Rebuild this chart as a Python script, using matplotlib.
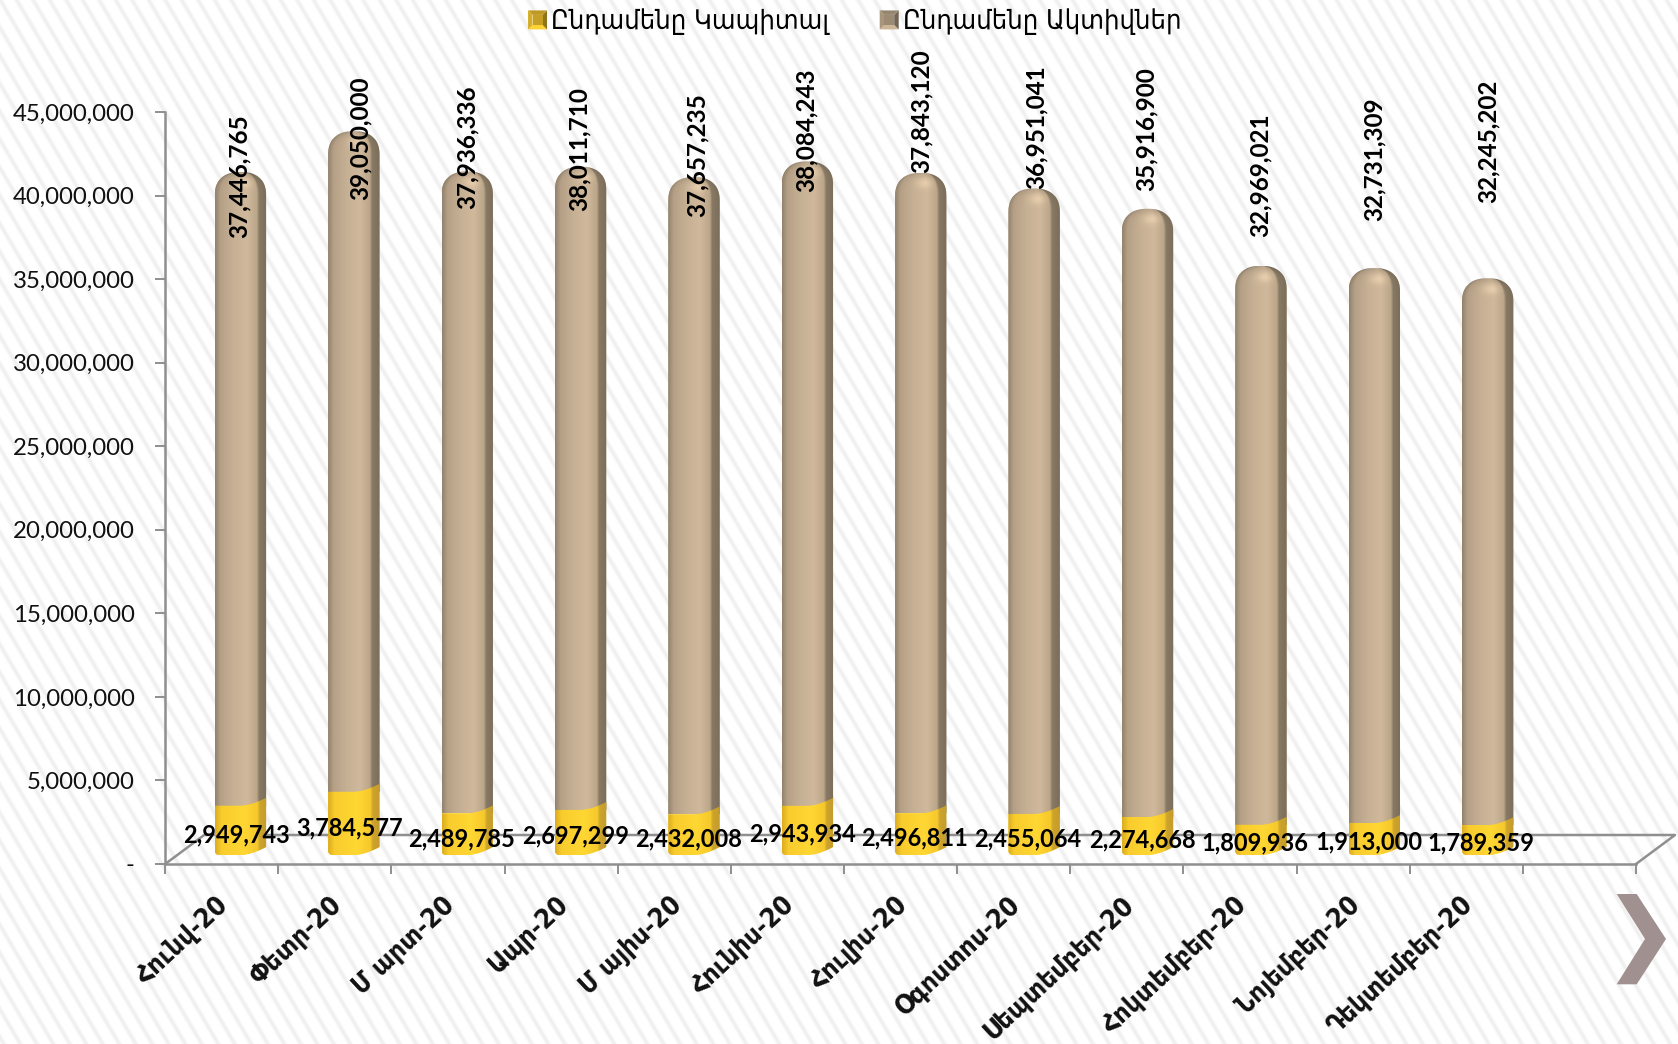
import matplotlib
matplotlib.use('Agg')
import matplotlib.pyplot as plt
import matplotlib.ticker as mticker
from matplotlib.colors import to_rgb
from matplotlib.legend_handler import HandlerBase
from matplotlib.patches import Patch, Polygon
import numpy as np

# ── Data ──────────────────────────────────────────────────────────────
months = ['Հունվ-20', 'Փետր-20', 'Մ արտ-20', 'Ապր-20', 'Մ այիս-20', 'Հունիս-20',
          'Հուլիս-20', 'Օգոստոս-20', 'Սեպտեմբեր-20', 'Հոկտեմբեր-20', 'Նոյեմբեր-20', 'Դեկտեմբեր-20']
capital = [2949743, 3784577, 2489785, 2697299, 2432008, 2943934,
           2496811, 2455064, 2274668, 1809936, 1913000, 1789359]
assets = [37446765, 39050000, 37936336, 38011710, 37657235, 38084243,
          37843120, 36951041, 35916900, 32969021, 32731309, 32245202]
legend_labels = ['Ընդամենը Կապիտալ', 'Ընդամենը Ակտիվներ']

# label centres in picture pixels, the labels were placed by hand in the original
total_label_x = [239, 360, 467, 579, 697, 806, 921, 1036, 1146, 1260, 1374, 1488]
total_label_y = [176, 138, 147, 149, 155, 130, 111, 127, 129, 175, 159, 141]
capital_label_x = [236, 350, 462, 576, 689, 803, 915, 1028, 1142, 1255, 1369, 1481]
capital_label_y = [835, 828, 839, 836, 839, 834, 838, 839, 840, 843, 842, 843]

W, H = 1678, 1044
AX_L, AX_R, AX_T, AX_B = 165.2, 1636.0, 112.0, 864.0
Y_MAX = 45000000
PX_X = 13 / (AX_R - AX_L)
PX_Y = Y_MAX / (AX_B - AX_T)

TAN = [(0, '#94846e'), (.10, '#b5a087'), (.35, '#c6b094'), (.62, '#cfb89b'),
       (.81, '#bca68a'), (.86, '#877964'), (1, '#7b6e5a')]
YELLOW = [(0, '#dcae22'), (.12, '#f8cc2d'), (.55, '#ffd733'), (.82, '#f6c92c'),
          (.87, '#cda42c'), (1, '#c49c2a')]


def gradient(stops, u):
    pos = [s[0] for s in stops]
    cols = np.array([to_rgb(s[1]) for s in stops])
    return np.stack([np.interp(u, pos, cols[:, i]) for i in range(3)], axis=-1)


def edge_curve(u):
    # front rim of the cylinder, rises towards the right edge (in px)
    return 8 * np.clip((u - 0.5) / 0.5, 0, 1) ** 1.7


def bar_image(ax, xc, y0, y1, stops, dome_px=0):
    half = 25.7 * PX_X
    ny = max(int((y1 - y0) / PX_Y), 4)
    xs = np.linspace(-1, 1, 52)
    img = np.zeros((ny, 52, 3))
    for r in range(ny):
        d = 0.0
        dist = ny - r - 0.5
        if dome_px and dist < dome_px:
            d = 1 - dist / dome_px
        squeeze = (1 - d ** 2.4) ** (1 / 2.4)
        u = 0.5 + 0.5 * np.clip(xs / max(squeeze, 0.02), -1, 1)
        shade = 1 - 0.12 * d ** 5 + 0.12 * np.exp(-((xs - 0.15) ** 2 / 0.12 + (d - 0.55) ** 2 / 0.05))
        img[r] = np.clip(gradient(stops, u) * shade[:, None], 0, 1)
    return ax.imshow(img, extent=(xc - half, xc + half, y0, y1), origin='lower',
                     aspect='auto', interpolation='bilinear', zorder=4)


class BevelHandler(HandlerBase):
    def create_artists(self, legend, orig, xd, yd, width, height, fontsize, trans):
        c = np.array(to_rgb(orig.get_facecolor()))
        s = 19.0 * 0.72
        x0, y0 = width - s, (height - s) / 2
        m = 4.5 * 0.72
        o = [(x0, y0), (x0 + s, y0), (x0 + s, y0 + s), (x0, y0 + s)]
        n = [(x0 + m, y0 + m), (x0 + s - m, y0 + m), (x0 + s - m, y0 + s - m), (x0 + m, y0 + s - m)]
        faces = [([o[0], o[1], n[1], n[0]], 1.12), ([o[1], o[2], n[2], n[1]], 0.62),
                 ([o[2], o[3], n[3], n[2]], 0.82), ([o[3], o[0], n[0], n[3]], 0.92),
                 (n, 0.85)]
        return [Polygon(p, closed=True, transform=trans, lw=0,
                        facecolor=np.clip(c * k, 0, 1)) for p, k in faces]


plt.rcParams['font.family'] = ['Lato', 'DejaVu Sans']

fig = plt.figure(figsize=(W / 100, H / 100), dpi=100, facecolor='white')

# ── Striped backdrop ──────────────────────────────────────────────────
bg = fig.add_axes([0, 0, 1, 1], zorder=-1)
xx, yy = np.meshgrid(np.arange(W), np.arange(H))
wave = 0.5 + 0.5 * np.cos(2 * np.pi * (xx - yy / 1.7) / 16.5)
bg.imshow(1 - 0.065 * wave ** 4, cmap='gray', vmin=0, vmax=1, aspect='auto', interpolation='nearest')
bg.axis('off')

ax = fig.add_axes([AX_L / W, 1 - AX_B / H, (AX_R - AX_L) / W, (AX_B - AX_T) / H])
ax.patch.set_visible(False)

# ── Floor of the 3D plot ──────────────────────────────────────────────
grey = '#8f8f8f'
fx, fy = 39 * PX_X, 29 * PX_Y
ax.plot([0, fx, 13 + fx, 13], [0, fy, fy, 0], color=grey, lw=1.8, clip_on=False, zorder=2)

# ── Bars ──────────────────────────────────────────────────────────────
x = np.arange(len(months))
bar_x = x + 0.665 + 0.0022 * x
base = 9 * PX_Y
half = 25.7 * PX_X
head = 24
u = np.linspace(0, 1, 40)
t = np.linspace(np.pi, 0, 40)
for i, xc in enumerate(bar_x):
    cap = capital[i]
    top = cap + assets[i]

    # tan column with a rounded head
    hx = xc + half * np.sign(np.cos(t)) * np.abs(np.cos(t)) ** (2 / 2.4)
    hy = base + top + 8 * PX_Y - head * PX_Y + head * PX_Y * np.sin(t) ** (2 / 2.4)
    shape = Polygon(np.column_stack([np.r_[xc - half, hx, xc + half], np.r_[base, hy, base]]),
                    closed=True, transform=ax.transData)
    rect = ax.bar(xc, assets[i], width=2 * half, bottom=base + cap, color='#c6b094', zorder=3)[0]
    rect.set_clip_path(shape)
    im = bar_image(ax, xc, base + cap, base + top + 8 * PX_Y, TAN, dome_px=head)
    im.set_clip_path(shape)

    # yellow slice, front rim curved
    sx = xc - half + 2 * half * u
    low = base + edge_curve(u) * PX_Y
    low[:3] += np.array([3, 1, 0.3]) * PX_Y
    up = base + cap + edge_curve(u) * PX_Y
    sl = Polygon(np.column_stack([np.r_[sx, sx[::-1]], np.r_[low, up[::-1]]]),
                 closed=True, transform=ax.transData)
    rect2 = ax.bar(xc, cap, width=2 * half, bottom=base, color='#ffd733', zorder=5)[0]
    rect2.set_clip_path(sl)
    im2 = bar_image(ax, xc, base, base + cap + 9 * PX_Y, YELLOW)
    im2.set_zorder(5)
    im2.set_clip_path(sl)

# ── Value labels ──────────────────────────────────────────────────────
for i in range(len(months)):
    ax.text((total_label_x[i] - AX_L) * PX_X, (AX_B - total_label_y[i]) * PX_Y, f'{assets[i]:,}',
            rotation=90, ha='center', va='center', fontsize=17.5, fontweight='bold', color='black', zorder=8)
    ax.text((capital_label_x[i] - AX_L) * PX_X, (AX_B - capital_label_y[i]) * PX_Y, f'{capital[i]:,}',
            ha='center', va='center', fontsize=17, fontweight='bold', color='black', zorder=8)

# ── Axes ──────────────────────────────────────────────────────────────
ax.set_xlim(0, 13)
ax.set_ylim(0, Y_MAX)
ax.set_yticks(range(0, Y_MAX + 1, 5000000))
ax.yaxis.set_major_formatter(mticker.FuncFormatter(lambda v, _: f'{int(v):,}' if v else '-'))
ax.tick_params(axis='y', labelsize=17.3, labelcolor='#111111', color=grey, width=1.4, length=7, pad=15)
ax.set_xticks(range(14))
ax.set_xticklabels([])
ax.set_xticks(x + 0.45, minor=True)
ax.set_xticklabels(months, minor=True, rotation=43, ha='right', va='top', rotation_mode='anchor',
                   fontsize=19, fontweight='bold', color='#111111',
                   family=['DejaVu Sans'], stretch='condensed')
ax.tick_params(axis='x', which='major', color=grey, width=1.4, length=7)
ax.tick_params(axis='x', which='minor', length=0, pad=20)
for side in ['top', 'right']:
    ax.spines[side].set_visible(False)
for side in ['left', 'bottom']:
    ax.spines[side].set_color(grey)
    ax.spines[side].set_linewidth(1.8)

handles = [Patch(facecolor='#e8bc2c'), Patch(facecolor='#b7a287')]
ax.legend(handles, legend_labels, handler_map={Patch: BevelHandler()}, ncol=2, frameon=False,
          loc='center', bbox_to_anchor=(854 / W, 1 - 22 / H), bbox_transform=fig.transFigure,
          handlelength=0.76, handletextpad=0.16, columnspacing=1.8, labelcolor='black',
          prop={'family': ['DejaVu Sans'], 'size': 19.5, 'stretch': 'condensed'})

# ── Next-slide arrow ──────────────────────────────────────────────────
arrow = np.array([(1616.7, 894), (1636.7, 894), (1666, 939), (1636.7, 984.3), (1616.7, 984.3), (1645, 939)])
fig.add_artist(Polygon(np.column_stack([arrow[:, 0] / W, 1 - arrow[:, 1] / H]), closed=True,
                       transform=fig.transFigure, facecolor='#a09090', edgecolor='none'))

fig.savefig('out.png', dpi=100)
